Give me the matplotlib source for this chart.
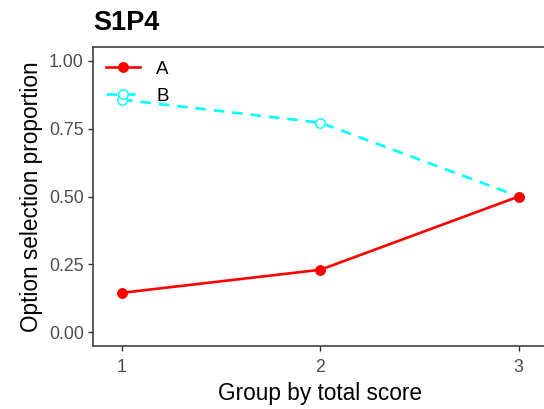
import matplotlib
matplotlib.use("Agg")
import matplotlib.pyplot as plt
from matplotlib.lines import Line2D

groups = [1, 2, 3]
series_a = [0.145, 0.23, 0.50]
series_b = [0.857, 0.772, 0.50]
labels = ["A", "B"]
yticks = [0.00, 0.25, 0.50, 0.75, 1.00]
yticklabels = ["0.00", "0.25", "0.50", "0.75", "1.00"]

plt.rcParams['font.family'] = ['Liberation Sans', 'DejaVu Sans']

W, H = 544, 409
fig = plt.figure(figsize=(W / 100, H / 100), dpi=100)
ax = fig.add_axes([93.3 / W, 63.3 / H, (547.5 - 93.3) / W, (345.7 - 47.3) / H])

dash = (0, (4, 3))
lw = 1.9
ax.plot(groups, series_b, color='#00FFFF', lw=lw, ls=dash, marker='o',
        markersize=6.8, markerfacecolor='white', markeredgecolor='#00FFFF',
        markeredgewidth=1.0, zorder=3)
ax.plot(groups, series_a, color='#FF0000', lw=lw, marker='o', markersize=6.8,
        markerfacecolor='#FF0000', markeredgecolor='#FF0000', zorder=4)

ax.set_xlim(0.855, 3.145)
ax.set_ylim(-0.05, 1.05)
ax.set_xticks(groups)
ax.set_xticklabels([str(g) for g in groups])
ax.set_yticks(yticks)
ax.set_yticklabels(yticklabels)

for s in ax.spines.values():
    s.set_color('#333333')
    s.set_linewidth(1.1)
ax.tick_params(axis='both', colors='#333333', labelcolor='#4D4D4D',
               labelsize=12.8, length=3.8, width=1.0, direction='out', pad=3)
ax.tick_params(axis='x', pad=6)

ax.set_xlabel("Group by total score", fontsize=16.3, color='black', labelpad=4)
ax.set_ylabel("Option selection proportion", fontsize=16.3, color='black', labelpad=4)
fig.text(93.3 / W, 1 - 23 / H, "S1P4", fontsize=19.5, fontweight='bold',
         ha='left', va='center')

handles = [
    Line2D([], [], color='#FF0000', lw=lw, marker='o', markersize=6.8,
           markerfacecolor='#FF0000', markeredgecolor='#FF0000'),
    Line2D([], [], color='#00FFFF', lw=lw, ls=dash, marker='o', markersize=6.8,
           markerfacecolor='white', markeredgecolor='#00FFFF'),
]
leg = ax.legend(handles, labels, loc='upper left', frameon=False, fontsize=13.5,
                handlelength=1.8, handletextpad=0.85, labelspacing=0.55,
                bbox_to_anchor=(0.0, 1.0), borderaxespad=0.3)
leg.set_zorder(10)

fig.savefig("out.png", dpi=100)
